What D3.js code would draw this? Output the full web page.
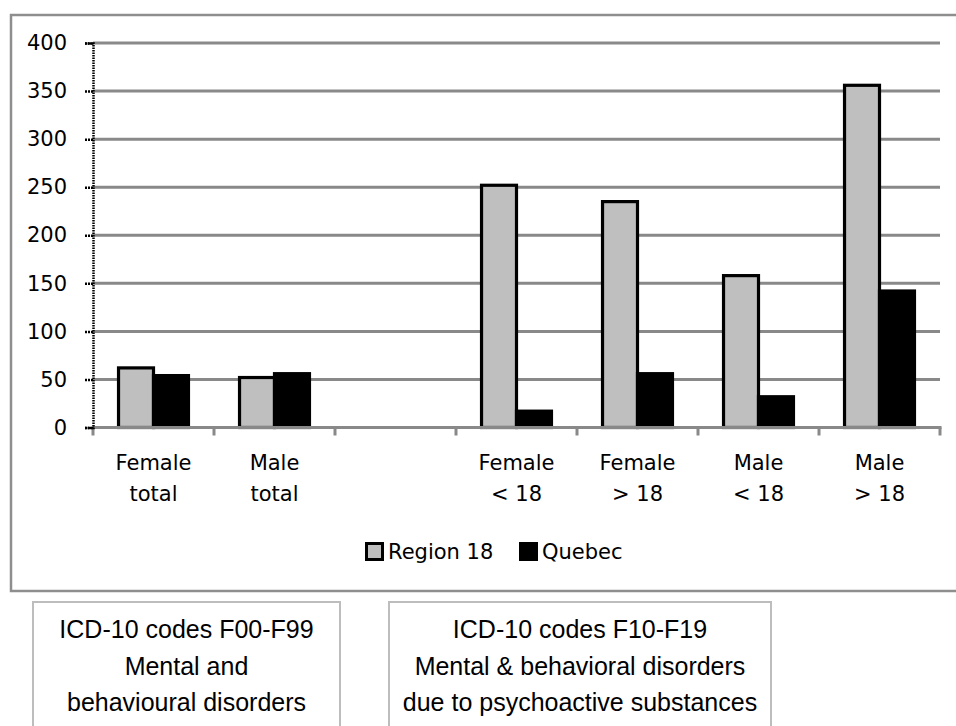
<!DOCTYPE html>
<html>
<head>
<meta charset="utf-8">
<script src="https://cdn.jsdelivr.net/npm/d3@7"></script>
<style>
  html, body { margin: 0; padding: 0; background: #fff; }
  svg { display: block; }
</style>
</head>
<body>
<svg id="chart" width="956" height="726"></svg>
<script>
// Rates per category, two series
const categories = [
  ["Female", "total"],
  ["Male", "total"],
  ["", ""],
  ["Female", "< 18"],
  ["Female", "> 18"],
  ["Male", "< 18"],
  ["Male", "> 18"]
];
const seriesNames = ["Region 18", "Quebec"];
const region18 = [62, 52, null, 252, 235, 158, 356];
const quebec = [54, 56, null, 17, 56, 32, 142];
const yTicks = [0, 50, 100, 150, 200, 250, 300, 350, 400];
const noteBoxes = [
  ["ICD-10 codes F00-F99", "Mental and", "behavioural disorders"],
  ["ICD-10 codes F10-F19", "Mental & behavioral disorders", "due to psychoactive substances"]
];

const svg = d3.select("#chart");
const font = "'DejaVu Sans', sans-serif";
const labelSize = 21;

// Outer chart frame
svg.append("rect")
  .attr("x", 11).attr("y", 15).attr("width", 960).attr("height", 576)
  .attr("fill", "#fff").attr("stroke", "#8e8e8e").attr("stroke-width", 2.5);

const plot = { left: 93, right: 940, top: 43, bottom: 427.5 };

const x0 = d3.scaleBand()
  .domain(d3.range(categories.length))
  .range([plot.left, plot.right])
  .padding(0);

const x1 = d3.scaleBand()
  .domain(seriesNames)
  .range([0, x0.bandwidth()])
  .paddingInner(0)
  .paddingOuter(0.73);

const y = d3.scaleLinear().domain([0, 400]).range([plot.bottom, plot.top]);

// Horizontal gridlines
svg.append("g").selectAll("line")
  .data(yTicks.filter(d => d > 0))
  .join("line")
  .attr("x1", plot.left).attr("x2", plot.right)
  .attr("y1", d => y(d)).attr("y2", d => y(d))
  .attr("stroke", "#898989").attr("stroke-width", 3);

// Bars
const seriesData = [
  { name: seriesNames[0], values: region18, fill: "#bfbfbf" },
  { name: seriesNames[1], values: quebec, fill: "#000" }
];
seriesData.forEach(s => {
  svg.append("g").selectAll("rect")
    .data(s.values.map((v, i) => ({ v, i })).filter(d => d.v != null))
    .join("rect")
    .attr("x", d => x0(d.i) + x1(s.name))
    .attr("width", x1.bandwidth())
    .attr("y", d => y(d.v))
    .attr("height", d => y(0) - y(d.v))
    .attr("fill", s.fill)
    .attr("stroke", "#000")
    .attr("stroke-width", 3.2);
});

// X axis (grey baseline with tick marks at band edges)
const xAxis = svg.append("g");
xAxis.append("line")
  .attr("x1", plot.left).attr("x2", plot.right + 1.5)
  .attr("y1", y(0)).attr("y2", y(0))
  .attr("stroke", "#898989").attr("stroke-width", 3);
xAxis.selectAll("line.tick")
  .data(d3.range(categories.length + 1))
  .join("line")
  .attr("class", "tick")
  .attr("x1", i => plot.left + i * x0.step())
  .attr("x2", i => plot.left + i * x0.step())
  .attr("y1", y(0)).attr("y2", y(0) + 8)
  .attr("stroke", "#898989").attr("stroke-width", 3);

// Category labels (two lines)
const catLabels = svg.append("g")
  .attr("font-family", font).attr("font-size", labelSize).attr("fill", "#000")
  .attr("text-anchor", "middle");
categories.forEach((c, i) => {
  const cx = x0(i) + x0.bandwidth() / 2;
  catLabels.append("text").attr("x", cx).attr("y", 470).text(c[0]);
  catLabels.append("text").attr("x", cx).attr("y", 501).text(c[1]);
});

// Y axis: dotted black line with short ticks
const yAxis = d3.axisLeft(y).tickValues(yTicks).tickSize(8).tickPadding(18);
const yg = svg.append("g").attr("transform", `translate(${plot.left},0)`).call(yAxis);
yg.select(".domain")
  .attr("stroke", "#000").attr("stroke-width", 2.5)
  .attr("stroke-dasharray", "1.5,1");
yg.selectAll(".tick line")
  .attr("stroke", "#000").attr("stroke-width", 2.5)
  .attr("stroke-dasharray", "2,1");
yg.selectAll(".tick text")
  .attr("font-family", font).attr("font-size", labelSize).attr("fill", "#000");

// Legend
const legend = svg.append("g").attr("font-family", font).attr("font-size", labelSize);
const legendItems = [
  { name: seriesNames[0], fill: "#bfbfbf", x: 365 },
  { name: seriesNames[1], fill: "#000", x: 519 }
];
legendItems.forEach(it => {
  legend.append("rect")
    .attr("x", it.x + 1.5).attr("y", 543.5).attr("width", 16).attr("height", 16)
    .attr("fill", it.fill).attr("stroke", "#000").attr("stroke-width", 3);
  legend.append("text").attr("x", it.x + 23).attr("y", 559).text(it.name);
});

// Explanatory boxes below the chart
const boxes = [
  { x: 33, w: 307 },
  { x: 389, w: 382 }
];
noteBoxes.forEach((lines, k) => {
  const b = boxes[k];
  const g = svg.append("g");
  g.append("rect")
    .attr("x", b.x).attr("y", 602).attr("width", b.w).attr("height", 140)
    .attr("fill", "#fff").attr("stroke", "#bdbdbd").attr("stroke-width", 2);
  lines.forEach((t, j) => {
    g.append("text")
      .attr("x", b.x + b.w / 2).attr("y", 638 + j * 36.5)
      .attr("text-anchor", "middle")
      .attr("font-family", "'Liberation Sans', Arial, sans-serif")
      .attr("font-size", 25).attr("fill", "#000")
      .text(t);
  });
});
</script>
</body>
</html>
